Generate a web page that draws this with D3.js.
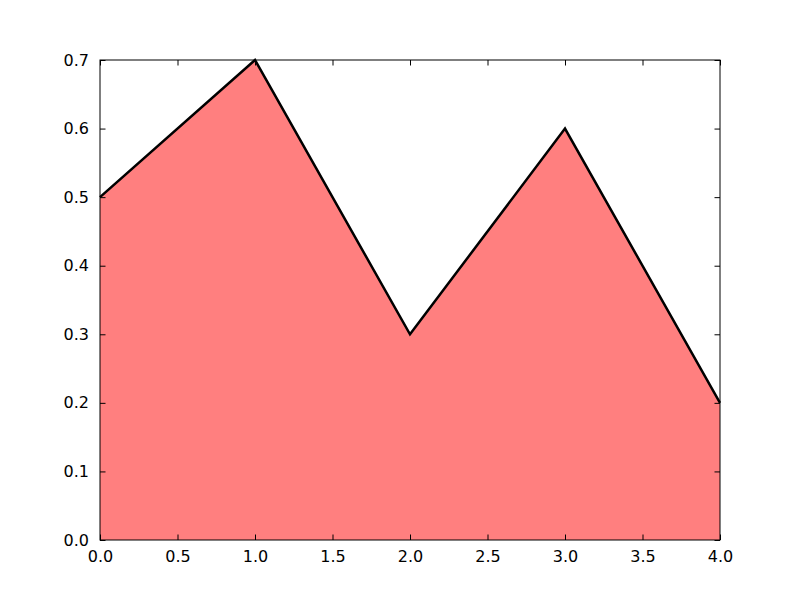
<!DOCTYPE html>
<html>
<head>
<meta charset="utf-8">
<script src="https://cdn.jsdelivr.net/npm/d3@7"></script>
<style>
  body { margin: 0; background: #fff; }
  svg { display: block; }
</style>
</head>
<body>
<svg width="800" height="600"></svg>
<script>
// the data
var xs = [0, 1, 2, 3, 4];
var ys = [0.5, 0.7, 0.3, 0.6, 0.2];
var xTicks = [0, 0.5, 1, 1.5, 2, 2.5, 3, 3.5, 4];
var yTicks = [0, 0.1, 0.2, 0.3, 0.4, 0.5, 0.6, 0.7];

var svg = d3.select("svg"),
    margin = {top: 60, right: 80, bottom: 60, left: 100},
    width = 800 - margin.left - margin.right,
    height = 600 - margin.top - margin.bottom;

var g = svg.append("g")
    .attr("transform", "translate(" + margin.left + "," + margin.top + ")");

var x = d3.scaleLinear().domain([0, 4]).range([0, width]);
var y = d3.scaleLinear().domain([0, 0.7]).range([height, 0]);

var pts = xs.map(function(d, i) { return [d, ys[i]]; });

// filled area
g.append("path")
    .datum(pts)
    .attr("fill", "#ff0000")
    .attr("fill-opacity", 0.5)
    .attr("d", d3.area()
      .x(function(d) { return x(d[0]); })
      .y0(y(0))
      .y1(function(d) { return y(d[1]); }));

// line
g.append("path")
    .datum(pts)
    .attr("fill", "none")
    .attr("stroke", "#000")
    .attr("stroke-width", 2.5)
    .attr("stroke-linejoin", "miter")
    .attr("d", d3.line()
      .x(function(d) { return x(d[0]); })
      .y(function(d) { return y(d[1]); }));

var tl = 5.5;
var fmt = d3.format(".1f");

// axes, ticks point inwards like matplotlib classic
g.append("g")
    .attr("transform", "translate(0," + height + ")")
    .call(d3.axisBottom(x).tickValues(xTicks).tickFormat(fmt).tickSizeInner(-tl).tickSizeOuter(0).tickPadding(11));
g.append("g")
    .call(d3.axisTop(x).tickValues(xTicks).tickFormat("").tickSizeInner(-tl).tickSizeOuter(0));
g.append("g")
    .call(d3.axisLeft(y).tickValues(yTicks).tickFormat(fmt).tickSizeInner(-tl).tickSizeOuter(0).tickPadding(11));
g.append("g")
    .attr("transform", "translate(" + width + ",0)")
    .call(d3.axisRight(y).tickValues(yTicks).tickFormat("").tickSizeInner(-tl).tickSizeOuter(0));

g.selectAll(".domain").remove();
g.selectAll(".tick line").attr("stroke", "#000");
g.selectAll(".tick text")
    .attr("font-family", "DejaVu Sans, sans-serif")
    .attr("font-size", 16)
    .attr("fill", "#000");

// frame
g.append("rect")
    .attr("width", width)
    .attr("height", height)
    .attr("fill", "none")
    .attr("stroke", "#000")
    .attr("stroke-width", 1);
</script>
</body>
</html>
